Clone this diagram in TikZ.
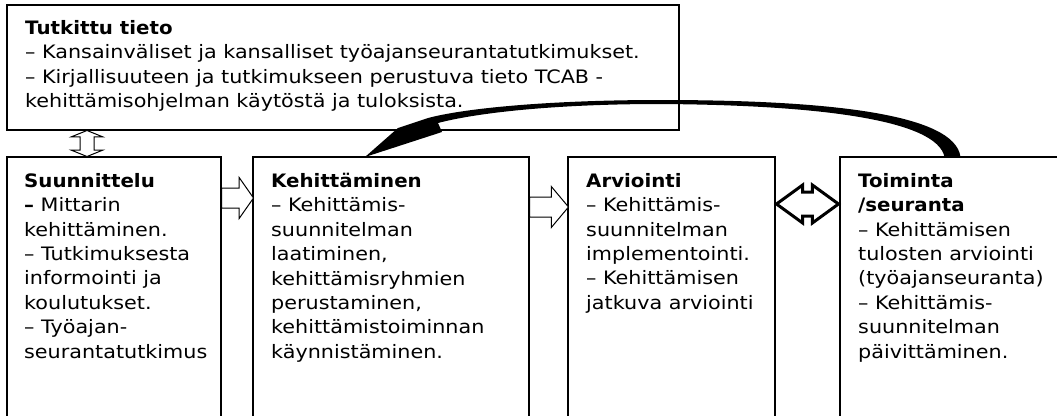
\documentclass[tikz,border=0pt]{standalone}
\usepackage{fontspec}
\setmainfont{DejaVu Sans}[FakeStretch=1.12, BoldFeatures={FakeStretch=1.07}]
\usetikzlibrary{shapes.arrows,calc}

\begin{document}
\begin{tikzpicture}[x=1pt, y=-1pt,
	every node/.style={font=\fontsize{18.5}{24.4}\selectfont},
	box/.style={draw, line width=1.2pt, outer sep=0pt, inner sep=0pt, minimum height=263pt, anchor=north west},
	txt/.style={anchor=north west, align=left, inner sep=0pt},
	fwd/.style={single arrow, draw, fill=white, line width=1pt, inner xsep=0pt, inner ysep=9.5pt, single arrow head extend=10.5pt, single arrow tip angle=110, anchor=tail}]
	\useasboundingbox (0,0) rectangle (1057,415);
	\clip (0,0) rectangle (1057,415);
	\node[box, minimum width=672pt, minimum height=125pt] (tieto) at (7,5) {};
	\node[box, minimum width=214pt] (suun) at (7,157) {};
	\node[box, minimum width=276pt] (kehi) at (253,157) {};
	\node[box, minimum width=207pt] (arvi) at (568,157) {};
	\node[box, minimum width=225pt] (toim) at (840,157) {};
	\node[txt] (tieto-t) at ([shift={(18,15)}]tieto.north west) {\textbf{Tutkittu tieto}\\
		– Kansainväliset ja kansalliset työajanseurantatutkimukset.\\
		– Kirjallisuuteen ja tutkimukseen perustuva tieto TCAB -\\
		kehittämisohjelman käytöstä ja tuloksista.};
	\node[txt] (suun-t) at ([shift={(17,16)}]suun.north west) {\textbf{Suunnittelu}\\
		\textbf{–} Mittarin\\ kehittäminen.\\ – Tutkimuksesta\\ informointi ja\\ koulutukset.\\ – Työajan-\\ seurantatutkimus};
	\node[txt] (kehi-t) at ([shift={(18,16)}]kehi.north west) {\textbf{Kehittäminen}\\
		– Kehittämis-\\ suunnitelman\\ laatiminen,\\ kehittämisryhmien\\ perustaminen,\\ kehittämistoiminnan\\ käynnistäminen.};
	\node[txt] (arvi-t) at ([shift={(18,16)}]arvi.north west) {\textbf{Arviointi}\\
		– Kehittämis-\\ suunnitelman\\ implementointi.\\ – Kehittämisen\\ jatkuva arviointi};
	\node[txt] (toim-t) at ([shift={(18,16)}]toim.north west) {\textbf{Toiminta}\\ \textbf{/seuranta}\\
		– Kehittämisen\\ tulosten arviointi\\ (työajanseuranta)\\ – Kehittämis-\\ suunnitelman\\ päivittäminen.};
	\node[fwd, minimum height=32pt] (a12) at ([yshift=-41pt]suun.north east) {};
	\node[fwd, minimum height=39pt, single arrow tip angle=100] (a23) at ([yshift=-50pt]kehi.north east) {};
	\node[double arrow, draw, fill=white, line width=3pt, inner xsep=0pt, inner ysep=10.5pt, minimum height=62pt, double arrow head extend=7pt, double arrow tip angle=72] (a34)
		at ($([yshift=-47pt]arvi.north east)!0.5!([yshift=-47pt]toim.north west)$) {};
	\node[double arrow, draw, fill=white, line width=1pt, inner xsep=0pt, inner ysep=6.5pt, rotate=90, minimum height=26pt, double arrow head extend=8.5pt, double arrow tip angle=136] (a01)
		at ($([xshift=80pt]tieto.south west)!0.5!([xshift=80pt]suun.north west)$) {};
	\fill ([xshift=8pt]toim.north) .. controls (955,114) and (830,100) .. (660,100)
		.. controls (560,100) and (470,107) .. (428,118) -- (398,128)
		-- ([xshift=-26pt]kehi.north) -- (442,132) -- (438,123)
		.. controls (480,112) and (560,104) .. (660,104)
		.. controls (820,105) and (937,120) .. ([xshift=-8pt]toim.north) -- cycle;
\end{tikzpicture}
\end{document}
